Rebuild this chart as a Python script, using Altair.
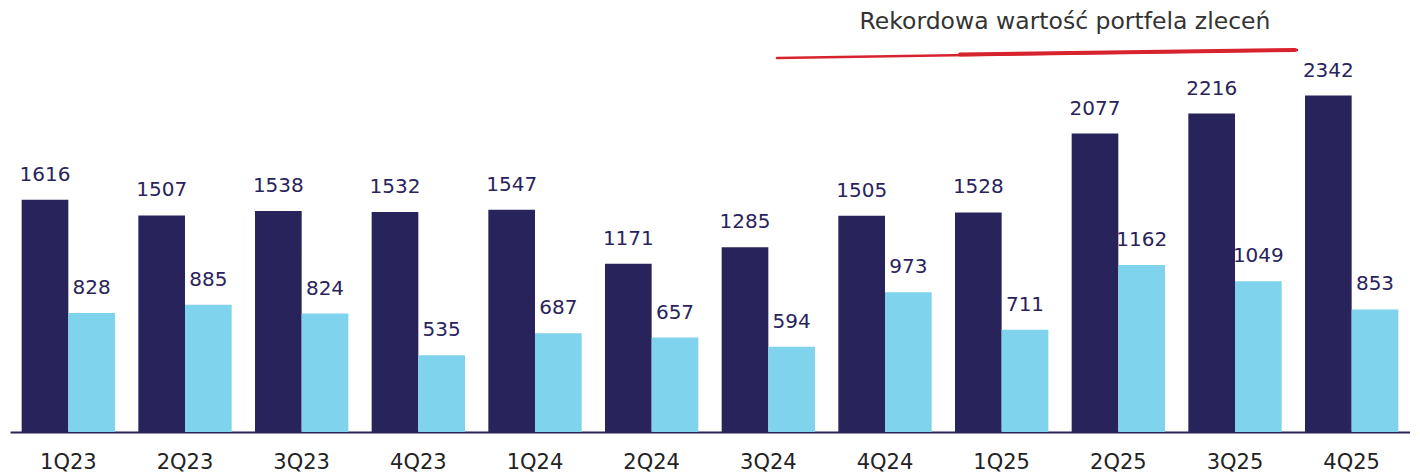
import altair as alt
import pandas as pd

quarters = ["1Q23", "2Q23", "3Q23", "4Q23", "1Q24", "2Q24", "3Q24", "4Q24",
            "1Q25", "2Q25", "3Q25", "4Q25"]
series_a = [1616, 1507, 1538, 1532, 1547, 1171, 1285, 1505, 1528, 2077, 2216, 2342]
series_b = [828, 885, 824, 535, 687, 657, 594, 973, 711, 1162, 1049, 853]
series_names = ["A", "B"]
colors = ["#29235C", "#7FD3EC"]
annotation = "Rekordowa wartość portfela zleceń"

rows = []
for q, a, b in zip(quarters, series_a, series_b):
    rows.append({"q": q, "s": series_names[0], "v": a})
    rows.append({"q": q, "s": series_names[1], "v": b})
df = pd.DataFrame(rows)

FONT = "DejaVu Sans"

x = alt.X("q:N", sort=quarters,
          scale=alt.Scale(paddingInner=0.2, paddingOuter=0.1),
          axis=alt.Axis(title=None, labelAngle=0, ticks=False, domain=True,
                        domainColor="#29235C", domainWidth=2,
                        labelFont=FONT, labelFontSize=21, labelColor="#222222",
                        labelPadding=19))
y = alt.Y("v:Q", scale=alt.Scale(domain=[0, 2951], nice=False), axis=None)
xo = alt.XOffset("s:N", sort=series_names)

base = alt.Chart(df).encode(x=x, xOffset=xo)

bars = base.mark_bar().encode(
    y=y,
    color=alt.Color("s:N", scale=alt.Scale(domain=series_names, range=colors), legend=None),
)
labels = base.mark_text(baseline="alphabetic", dy=-19, font=FONT, fontSize=20,
                        color="#29235C").encode(y=y, text="v:Q")

note_df = pd.DataFrame({"t": [annotation]})
note = alt.Chart(note_df).mark_text(
    font=FONT, fontSize=23.5, color="#333333", align="center", baseline="middle"
).encode(x=alt.value(1055), y=alt.value(14), text="t:N")

stroke_thin = alt.Chart(note_df).mark_rule(
    color="#D7232E", strokeWidth=2.5, strokeCap="round"
).encode(x=alt.value(767), x2=alt.value(1287), y=alt.value(50), y2=alt.value(42))
stroke_thick = alt.Chart(note_df).mark_rule(
    color="#D7232E", strokeWidth=4, strokeCap="round"
).encode(x=alt.value(950), x2=alt.value(1285), y=alt.value(46.5), y2=alt.value(42))

chart = alt.layer(bars, labels, note, stroke_thin, stroke_thick).properties(
    width=1400, height=424, background="white",
    padding={"left": 2, "top": 0, "right": 0, "bottom": 0},
).configure_view(stroke=None)

chart.save("out.html", embed_options={"renderer": "svg", "actions": False})
